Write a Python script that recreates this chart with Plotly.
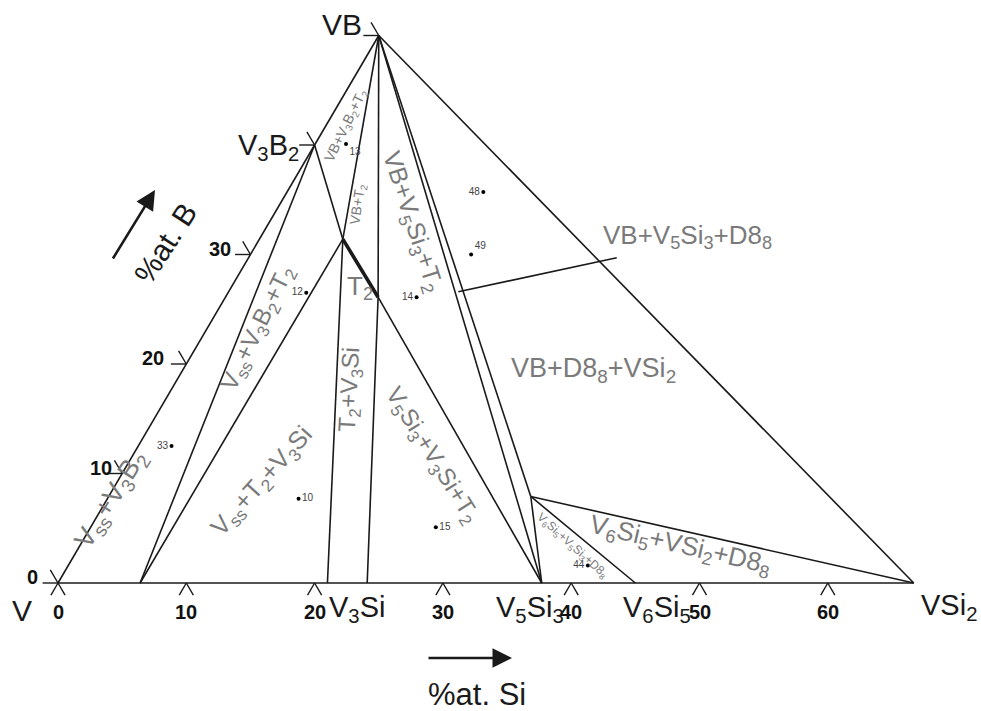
import numpy as np
import plotly.graph_objects as go

# ---------------- data: phase compositions (at.% Si, at.% B) ----------------
phase_names = ["V", "VB", "V3B2", "VSi2", "V3Si_l", "V3Si_r", "V5Si3", "V6Si5",
               "Vss", "T2a", "T2b", "D88"]
phase_si = [0.0, 0.0, 0.0, 66.7, 21.0, 24.1, 37.7, 45.0, 6.4, 6.5, 11.9, 32.9]
phase_b = [0.0, 50.0, 40.0, 0.0, 0.0, 0.0, 0.0, 0.0, 0.0, 31.4, 26.1, 7.9]

# tie lines / phase boundaries (pairs of phases)
tie_lines = [
    ("V", "VB"), ("VB", "VSi2"), ("V", "VSi2"),
    ("V3B2", "Vss"), ("T2a", "Vss"), ("V3B2", "T2a"),
    ("VB", "T2a"), ("T2a", "V3Si_l"), ("VB", "T2b"), ("T2b", "V3Si_r"),
    ("T2b", "V5Si3"), ("VB", "V5Si3"), ("VB", "D88"),
    ("D88", "V5Si3"), ("D88", "V6Si5"), ("D88", "VSi2"),
]
thick_lines = [("T2a", "T2b")]

# experimental alloys (at.% Si, at.% B)
alloy_ids = ["13", "48", "49", "12", "14", "33", "10", "15", "44"]
alloy_si = [2.4, 15.3, 17.2, 6.1, 14.9, 2.6, 14.9, 26.9, 40.5]
alloy_b = [40.1, 35.7, 30.0, 26.5, 26.1, 12.5, 7.7, 5.1, 1.6]

# leader line (at.% Si, at.% B)
leader_si = [17.9, 28.7]
leader_b = [26.6, 29.7]

# axis ticks
si_ticks = [0, 10, 20, 30, 40, 50, 60]
si_tick_labels = ["0", "10", "20", "30", "40", "50", "60"]
b_ticks = [0, 10, 20, 30, 40, 50]
b_tick_labels = ["0", "10", "20", "30", "", ""]

S3 = np.sqrt(3) / 2

FIG_W, FIG_H = 981, 711
X0, Y0 = 58, 583          # pixel position of the V corner
KX, KY = 12.83, 12.644    # pixels per cartesian unit


def tx(si, b):
    return si + b / 2.0


def ty(si, b):
    return b * S3


comp = {n: (s, b) for n, s, b in zip(phase_names, phase_si, phase_b)}

fig = go.Figure()


def seg_trace(pairs, width):
    xs, ys = [], []
    for a, c in pairs:
        for n in (a, c):
            s, b = comp[n]
            xs.append(tx(s, b))
            ys.append(ty(s, b))
        xs.append(None)
        ys.append(None)
    return go.Scatter(x=xs, y=ys, mode="lines",
                      line=dict(color="#1a1a1a", width=width),
                      hoverinfo="skip", showlegend=False)


fig.add_trace(seg_trace(tie_lines, 1.6))
fig.add_trace(seg_trace(thick_lines, 3.6))

# leader line
fig.add_trace(go.Scatter(x=[tx(s, b) for s, b in zip(leader_si, leader_b)],
                         y=[ty(s, b) for s, b in zip(leader_si, leader_b)],
                         mode="lines", line=dict(color="#1a1a1a", width=1.6),
                         hoverinfo="skip", showlegend=False))

# ticks
d_bot = 1.1
d_left = 1.2
xs, ys = [], []
for t in si_ticks:
    for (s2, b2) in [(t, -d_bot), (t + d_bot, -d_bot)]:
        xs += [tx(t, 0), tx(s2, b2), None]
        ys += [ty(t, 0), ty(s2, b2), None]
for t in b_ticks:
    for (s2, b2) in [(-d_left, t), (-d_left, t + d_left)]:
        xs += [tx(0, t), tx(s2, b2), None]
        ys += [ty(0, t), ty(s2, b2), None]
fig.add_trace(go.Scatter(x=xs, y=ys, mode="lines",
                         line=dict(color="#1a1a1a", width=1.4),
                         hoverinfo="skip", showlegend=False))

# alloys
pos = ["bottom right", "middle left", "top right", "middle left", "middle left",
       "middle left", "middle right", "middle right", "middle left"]
fig.add_trace(go.Scatter(x=[tx(s, b) for s, b in zip(alloy_si, alloy_b)],
                         y=[ty(s, b) for s, b in zip(alloy_si, alloy_b)],
                         mode="markers+text", text=alloy_ids, textposition=pos,
                         marker=dict(color="black", size=4),
                         textfont=dict(family="Liberation Sans", size=10, color="#444444"),
                         hoverinfo="skip", showlegend=False))

annotations = []
FONT = "Liberation Sans"

# tick labels
for t, lab in zip(si_ticks, si_tick_labels):
    annotations.append(dict(x=tx(t, 0), y=ty(t, 0), xref="x", yref="y", text=lab,
                            showarrow=False, yshift=-29,
                            font=dict(family=FONT, size=20, color="#111111", weight="bold")))
left_shift = [-18, -8, -20, -17, 0, 0]
for t, lab, sh in zip(b_ticks, b_tick_labels, left_shift):
    if lab:
        annotations.append(dict(x=tx(0, t), y=ty(0, t), xref="x", yref="y", text=lab,
                                showarrow=False, xanchor="right", xshift=sh, yshift=6,
                                font=dict(family=FONT, size=20, color="#111111", weight="bold")))


def P(px, py):
    return px / FIG_W, 1 - py / FIG_H


def label(text, px, py, size, color, angle=0):
    x, y = P(px, py)
    annotations.append(dict(x=x, y=y, xref="paper", yref="paper", text=text,
                            showarrow=False, textangle=angle,
                            xanchor="center", yanchor="middle",
                            font=dict(family=FONT, size=size, color=color)))


BLK = "#1a1a1a"
GRY = "#7a7a7a"
# compound labels
label("V", 22, 610, 30, BLK)
label("VB", 342, 24, 30, BLK)
label("V<sub>3</sub>B<sub>2</sub>", 268, 147, 29, BLK)
label("V<sub>3</sub>Si", 357, 609, 29, BLK)
label("V<sub>5</sub>Si<sub>3</sub>", 530, 609, 29, BLK)
label("V<sub>6</sub>Si<sub>5</sub>", 657, 609, 29, BLK)
label("VSi<sub>2</sub>", 949, 607, 29, BLK)

# axis titles
label("%at. Si", 477, 694, 31, BLK)
label("%at. B", 165, 243, 30, BLK, -57)

# region labels
label("V<sub>ss</sub>+V<sub>3</sub>B<sub>2</sub>", 112, 500, 27, GRY, -58)
label("V<sub>ss</sub>+V<sub>3</sub>B<sub>2</sub>+T<sub>2</sub>", 258, 328, 24, GRY, -64)
label("V<sub>ss</sub>+T<sub>2</sub>+V<sub>3</sub>Si", 262, 482, 25, GRY, -48)
label("T<sub>2</sub>+V<sub>3</sub>Si", 350, 390, 24, GRY, -87)
label("V<sub>5</sub>Si<sub>3</sub>+V<sub>3</sub>Si+T<sub>2</sub>", 432, 455, 24, GRY, 58)
label("VB+V<sub>5</sub>Si<sub>3</sub>+T<sub>2</sub>", 412, 222, 25, GRY, 72)
label("VB+V<sub>3</sub>B<sub>2</sub>+T<sub>2</sub>", 346, 126, 14, GRY, -64)
label("VB+T<sub>2</sub>", 358, 205, 14, GRY, -82)
label("T<sub>2</sub>", 360, 287, 26, GRY)
label("VB+V<sub>5</sub>Si<sub>3</sub>+D8<sub>8</sub>", 687, 237, 26, GRY)
label("VB+D8<sub>8</sub>+VSi<sub>2</sub>", 593, 370, 27, GRY)
label("V<sub>6</sub>Si<sub>5</sub>+VSi<sub>2</sub>+D8<sub>8</sub>", 680, 545, 26, GRY, 13)
label("V<sub>6</sub>Si<sub>5</sub>+V<sub>5</sub>Si<sub>3</sub>+D8<sub>8</sub>", 572, 546, 12, GRY, 42)

# direction arrows
hx, hy = P(512, 658)
annotations.append(dict(x=hx, y=hy, xref="paper", yref="paper", text="", showarrow=True,
                        ax=-85, ay=0, arrowhead=2, arrowsize=1.5, arrowwidth=2.6,
                        arrowcolor=BLK))
hx, hy = P(155, 190)
annotations.append(dict(x=hx, y=hy, xref="paper", yref="paper", text="", showarrow=True,
                        ax=-43, ay=70, arrowhead=2, arrowsize=1.5, arrowwidth=2.6,
                        arrowcolor=BLK))

fig.update_layout(
    width=FIG_W, height=FIG_H,
    margin=dict(l=0, r=0, t=0, b=0),
    paper_bgcolor="white", plot_bgcolor="white",
    xaxis=dict(range=[-X0 / KX, (FIG_W - X0) / KX], visible=False, fixedrange=True),
    yaxis=dict(range=[(Y0 - FIG_H) / KY, Y0 / KY], visible=False, fixedrange=True),
    annotations=annotations,
    showlegend=False,
)

fig.write_html("out.html", config={"displayModeBar": False},
               post_script="document.body.style.margin='0px';document.body.style.overflow='hidden';")
